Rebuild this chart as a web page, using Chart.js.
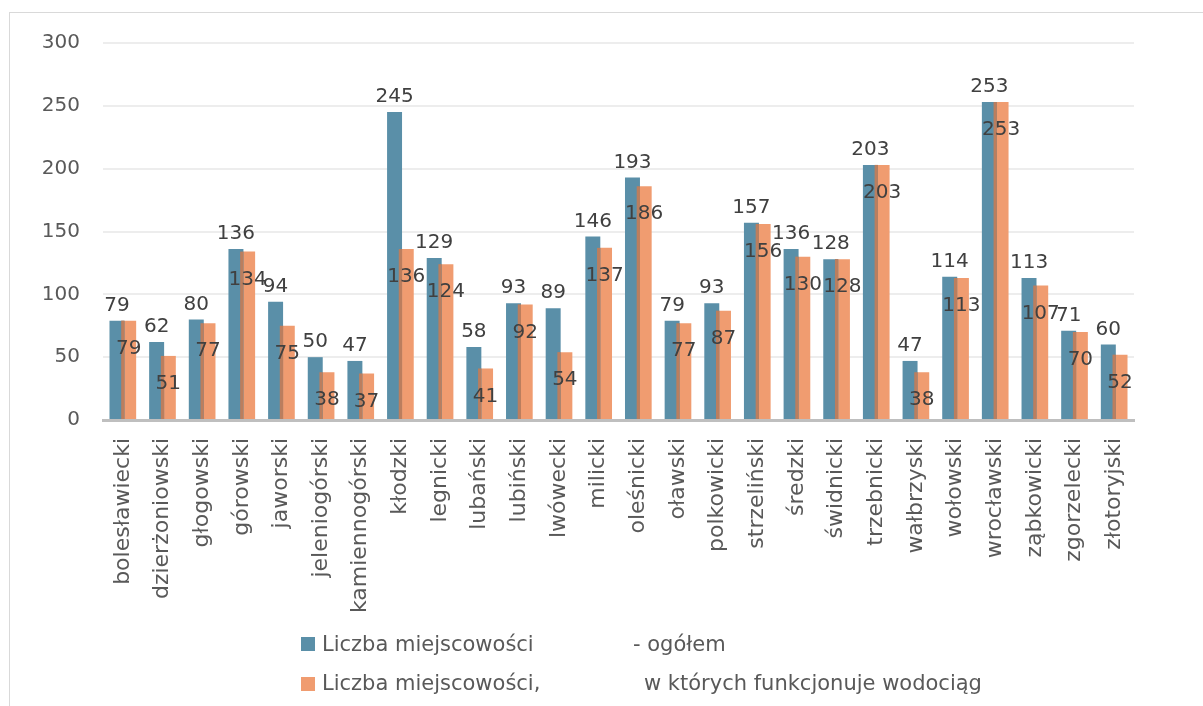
<!DOCTYPE html>
<html>
<head>
<meta charset="utf-8">
<script src="https://cdn.jsdelivr.net/npm/chart.js@4"></script>
<style>
  html, body { margin:0; padding:0; background:#fff; overflow:hidden; }
  body { width:1203px; height:706px; position:relative; }
  #frame { position:absolute; left:9px; top:12px; width:1300px; height:800px; border:1px solid #d9d9d9; }
  #wrap { position:absolute; left:0; top:0; width:1203px; height:706px; }
  .lg { position:absolute; font:21px "DejaVu Sans", sans-serif; color:#595959; line-height:20px; white-space:nowrap; }
  .sw { position:absolute; width:14px; height:14px; }
</style>
</head>
<body>
<div id="frame"></div>
<div id="wrap"><canvas id="c"></canvas></div>

<div class="sw" style="left:301px;top:637px;background:#5a8fa8"></div>
<div class="lg" style="left:322px;top:634px">Liczba miejscowości</div>
<div class="lg" style="left:633px;top:634px">- ogółem</div>
<div class="sw" style="left:301px;top:677px;background:#f09c70"></div>
<div class="lg" style="left:322px;top:673px">Liczba miejscowości,</div>
<div class="lg" style="left:644px;top:673px">w których funkcjonuje wodociąg</div>

<script>
// powiaty (Dolny Śląsk)
const districts = ['bolesławiecki','dzierżoniowski','głogowski','górowski','jaworski','jeleniogórski',
  'kamiennogórski','kłodzki','legnicki','lubański','lubiński','lwówecki','milicki','oleśnicki','oławski',
  'polkowicki','strzeliński','średzki','świdnicki','trzebnicki','wałbrzyski','wołowski','wrocławski',
  'ząbkowicki','zgorzelecki','złotoryjski'];
const total = [79,62,80,136,94,50,47,245,129,58,93,89,146,193,79,93,157,136,128,203,47,114,253,113,71,60];
const water = [79,51,77,134,75,38,37,136,124,41,92,54,137,186,77,87,156,130,128,203,38,113,253,107,70,52];
const yTicks = [0,50,100,150,200,250,300];

const FONT = '"DejaVu Sans", sans-serif';

// overlap shading + value labels (no datalabels plugin offline)
const barLabels = {
  id: 'barLabels',
  afterDatasetsDraw(chart) {
    const ctx = chart.ctx;
    const m0 = chart.getDatasetMeta(0), m1 = chart.getDatasetMeta(1);
    ctx.save();
    m0.data.forEach((b, i) => {
      const o = m1.data[i];
      const l = o.x - o.width/2, r = b.x + b.width/2;
      const top = Math.max(b.y, o.y);
      ctx.fillStyle = '#bb7e5e';
      ctx.fillRect(l, top, r - l, b.base - top);
    });
    ctx.font = '20px ' + FONT;
    ctx.fillStyle = '#404040';
    ctx.textAlign = 'center';
    ctx.textBaseline = 'middle';
    m0.data.forEach((b, i) => ctx.fillText(total[i], b.x, b.y - 15));
    m1.data.forEach((b, i) => ctx.fillText(water[i], b.x, b.y + 28));
    ctx.restore();
  }
};

new Chart(document.getElementById('c'), {
  type: 'bar',
  data: {
    labels: districts,
    datasets: [
      { label:'Liczba miejscowości - ogółem', data: total, backgroundColor:'#5a8fa8',
        categoryPercentage:0.59, barPercentage:1.28 },
      { label:'Liczba miejscowości, w których funkcjonuje wodociąg', data: water, backgroundColor:'#f09c70',
        categoryPercentage:0.59, barPercentage:1.28 }
    ]
  },
  options: {
    responsive:true, maintainAspectRatio:false, animation:false,
    layout:{ padding:{ left:0, right:69, top:43, bottom:0 } },
    plugins:{ legend:{ display:false }, tooltip:{ enabled:false } },
    scales:{
      x:{
        grid:{ display:false, drawTicks:false },
        border:{ color:'#bfbfbf', width:3 },
        ticks:{ autoSkip:false, minRotation:90, maxRotation:90, padding:18,
                color:'#595959', font:{ family:FONT, size:22 } },
        afterFit(s){ s.height = 286; }
      },
      y:{
        min:0, max:300,
        afterBuildTicks(s){ s.ticks = yTicks.map(v => ({ value:v })); },
        grid:{ color:'#ededed', lineWidth:2, drawTicks:false },
        border:{ display:false },
        ticks:{ padding:23, color:'#595959', font:{ family:FONT, size:20 } },
        afterFit(s){ s.width = 103; }
      }
    }
  },
  plugins:[barLabels]
});
</script>
</body>
</html>
